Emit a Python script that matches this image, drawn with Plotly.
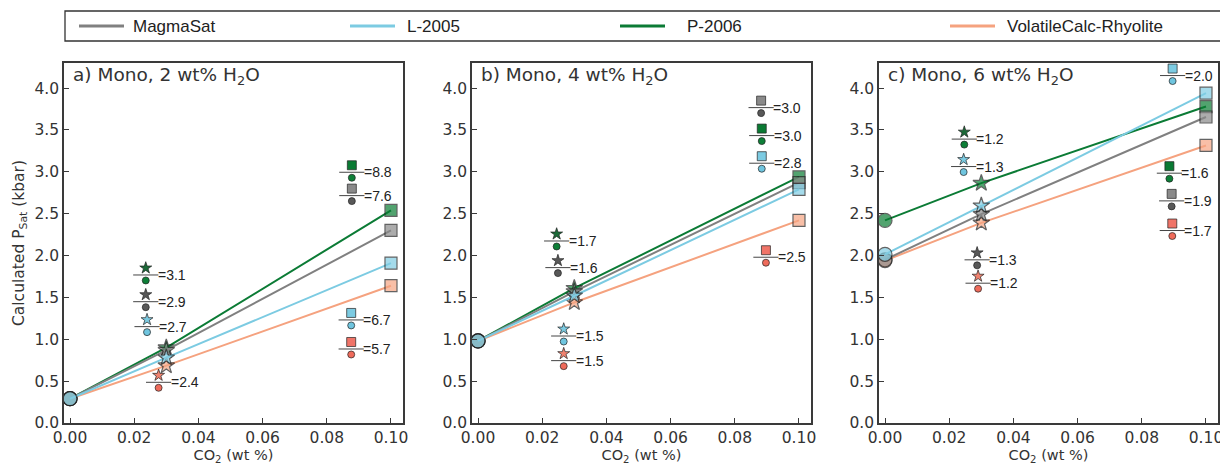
import plotly.graph_objects as go

# ---------------- data ----------------
co2 = [0.0, 0.03, 0.10]
models = ["MagmaSat", "L-2005", "P-2006", "VolatileCalc-Rhyolite"]

# Calculated Psat (kbar) per panel, per model, at CO2 = 0, 0.03, 0.10
psat_a = {"MagmaSat": [0.29, 0.87, 2.30], "L-2005": [0.29, 0.78, 1.91],
          "P-2006": [0.29, 0.90, 2.54], "VolatileCalc-Rhyolite": [0.29, 0.685, 1.64]}
psat_b = {"MagmaSat": [0.98, 1.57, 2.87], "L-2005": [0.98, 1.52, 2.79],
          "P-2006": [0.98, 1.61, 2.94], "VolatileCalc-Rhyolite": [0.98, 1.44, 2.42]}
psat_c = {"MagmaSat": [1.95, 2.495, 3.655], "L-2005": [2.015, 2.595, 3.94],
          "P-2006": [2.42, 2.865, 3.78], "VolatileCalc-Rhyolite": [1.94, 2.39, 3.315]}

# ratio labels (star / circle and square / circle)
ratio_star_models_a = ["P-2006", "MagmaSat", "L-2005", "VolatileCalc-Rhyolite"]
ratio_star_values_a = [3.1, 2.9, 2.7, 2.4]
ratio_sq_models_a = ["P-2006", "MagmaSat", "L-2005", "VolatileCalc-Rhyolite"]
ratio_sq_values_a = [8.8, 7.6, 6.7, 5.7]

ratio_star_models_b = ["P-2006", "MagmaSat", "L-2005", "VolatileCalc-Rhyolite"]
ratio_star_values_b = [1.7, 1.6, 1.5, 1.5]
ratio_sq_models_b = ["MagmaSat", "P-2006", "L-2005", "VolatileCalc-Rhyolite"]
ratio_sq_values_b = [3.0, 3.0, 2.8, 2.5]

ratio_star_models_c = ["P-2006", "L-2005", "MagmaSat", "VolatileCalc-Rhyolite"]
ratio_star_values_c = [1.2, 1.3, 1.3, 1.2]
ratio_sq_models_c = ["L-2005", "P-2006", "MagmaSat", "VolatileCalc-Rhyolite"]
ratio_sq_values_c = [2.0, 1.6, 1.9, 1.7]

panel_titles = ["a) Mono, 2 wt% H<sub>2</sub>O", "b) Mono, 4 wt% H<sub>2</sub>O",
                "c) Mono, 6 wt% H<sub>2</sub>O"]
x_ticks = [0.0, 0.02, 0.04, 0.06, 0.08, 0.10]
y_ticks = [0.0, 0.5, 1.0, 1.5, 2.0, 2.5, 3.0, 3.5, 4.0]

# ---------------- layout / style ----------------
W, H = 1228, 463
OFF = 8  # page body margin offset
def px_x(p):
    return (p - OFF) / W
def px_y(p):
    return 1 - (p - OFF) / H

line_col = {"MagmaSat": "#808080", "L-2005": "#7ccbe2", "P-2006": "#0b7b35",
            "VolatileCalc-Rhyolite": "#f5a27f"}
fill_col = {"MagmaSat": "#8a8a8a", "L-2005": "#80cde3", "P-2006": "#0a7d33",
            "VolatileCalc-Rhyolite": "#f6a583"}
top_star_col = {"MagmaSat": "#585858", "L-2005": "#7ccbe2", "P-2006": "#1b6a38",
                "VolatileCalc-Rhyolite": "#f0826f"}
top_sq_col = {"MagmaSat": "#8a8a8a", "L-2005": "#7ccbe2", "P-2006": "#0a7a33",
              "VolatileCalc-Rhyolite": "#f07468"}
circ_col = {"MagmaSat": "#585858", "L-2005": "#6fc5df", "P-2006": "#0d7f37",
            "VolatileCalc-Rhyolite": "#ef6b5b"}
draw_order = ["P-2006", "VolatileCalc-Rhyolite", "MagmaSat", "L-2005"]

# label placement (data coords of the fraction bar) per panel
star_pos = [
    [(0.0236, 1.768), (0.0236, 1.449), (0.0240, 1.151), (0.0276, 0.486)],
    [(0.0245, 2.174), (0.0249, 1.856), (0.0267, 1.039), (0.0267, 0.745)],
    [(0.0247, 3.391), (0.0245, 3.063), (0.0287, 1.949), (0.0290, 1.670)],
]
sq_pos = [
    [(0.0878, 2.995), (0.0878, 2.716), (0.0876, 1.231), (0.0876, 0.884)],
    [(0.0882, 3.767), (0.0884, 3.433), (0.0884, 3.103), (0.0897, 1.980)],
    [(0.0896, 4.150), (0.0886, 2.984), (0.0893, 2.653), (0.0895, 2.299)],
]

YPX = 83.7  # px per kbar
x_dom_px = [(64, 403), (472, 811), (879, 1218)]
y_dom = [px_y(423), px_y(63)]
x_range = [-0.00187, 0.10374]
y_range = [0, 4.30]

panels = [
    (psat_a, ratio_star_models_a, ratio_star_values_a, ratio_sq_models_a, ratio_sq_values_a),
    (psat_b, ratio_star_models_b, ratio_star_values_b, ratio_sq_models_b, ratio_sq_values_b),
    (psat_c, ratio_star_models_c, ratio_star_values_c, ratio_sq_models_c, ratio_sq_values_c),
]

fig = go.Figure()
annotations = []
AXC = "#3a3a3a"
TXT = "#333333"

for i, (psat, smods, svals, qmods, qvals) in enumerate(panels):
    xa = "x" if i == 0 else f"x{i+1}"
    ya = "y" if i == 0 else f"y{i+1}"
    for m in draw_order:
        fig.add_trace(go.Scatter(
            x=co2, y=psat[m], mode="lines+markers", name=m, showlegend=False,
            xaxis=xa, yaxis=ya, cliponaxis=False,
            line=dict(color=line_col[m], width=2),
            marker=dict(symbol=["circle", "star", "square"], size=[14, 12.5, 12],
                        color=fill_col[m], line=dict(color="#222222", width=1.2)),
        ))
    # ratio label glyphs
    for kind, mods, vals, pos in (("star", smods, svals, star_pos[i]),
                                  ("square", qmods, qvals, sq_pos[i])):
        xs = [p[0] for p in pos]
        ys = [p[1] for p in pos]
        tops = [y + 7.0 / YPX for y in ys]
        bots = [y - 5.5 / YPX for y in ys]
        tcols = [(top_star_col if kind == "star" else top_sq_col)[m] for m in mods]
        fig.add_trace(go.Scatter(
            x=xs, y=tops, mode="markers", showlegend=False, xaxis=xa, yaxis=ya,
            hoverinfo="skip",
            marker=dict(symbol=kind, size=9, color=tcols,
                        line=dict(color="#222222", width=0.7))))
        fig.add_trace(go.Scatter(
            x=xs, y=ys, mode="markers", showlegend=False, xaxis=xa, yaxis=ya,
            hoverinfo="skip",
            marker=dict(symbol="line-ew", size=18, color="#444444",
                        line=dict(color="#444444", width=1))))
        fig.add_trace(go.Scatter(
            x=xs, y=bots, mode="markers", showlegend=False, xaxis=xa, yaxis=ya,
            hoverinfo="skip",
            marker=dict(symbol="circle", size=7, color=[circ_col[m] for m in mods],
                        line=dict(color="#222222", width=0.7))))
        for x, y, v in zip(xs, ys, vals):
            annotations.append(dict(
                x=x, y=y, xref=xa, yref=ya, text=f"={v:.1f}", showarrow=False,
                xanchor="left", yanchor="middle", xshift=10,
                font=dict(family="Liberation Sans", size=14, color="#222222")))
    # panel title
    annotations.append(dict(
        x=px_x(x_dom_px[i][0] + 7), y=px_y(76), xref="paper", yref="paper",
        text=panel_titles[i], showarrow=False, xanchor="left", yanchor="middle",
        font=dict(family="DejaVu Sans", size=18.5, color=TXT)))

axis_common = dict(showline=True, linecolor=AXC, linewidth=1.5, mirror=True,
                   ticks="inside", ticklen=5, tickwidth=1.2, tickcolor=AXC,
                   showgrid=False, zeroline=False, automargin=False,
                   tickfont=dict(family="DejaVu Sans", size=15.5, color=TXT))

layout = dict(width=W, height=H, margin=dict(l=0, r=0, t=0, b=0, autoexpand=False),
              plot_bgcolor="white", paper_bgcolor="white", showlegend=False)
for i in range(3):
    sfx = "" if i == 0 else str(i + 1)
    layout["xaxis" + sfx] = dict(
        axis_common, domain=[px_x(x_dom_px[i][0]), px_x(x_dom_px[i][1])], range=x_range,
        anchor="y" + sfx, tickvals=x_ticks, ticktext=[f"{t:.2f}" for t in x_ticks],
        title=dict(text="CO<sub>2</sub> (wt %)", standoff=0,
                   font=dict(family="DejaVu Sans", size=14.5, color=TXT)))
    layout["yaxis" + sfx] = dict(
        axis_common, domain=y_dom, range=y_range, anchor="x" + sfx,
        tickvals=y_ticks, ticktext=[f"{t:.1f}" for t in y_ticks])
layout["yaxis"]["title"] = dict(text="Calculated P<sub>Sat</sub> (kbar)", standoff=6,
                                font=dict(family="DejaVu Sans", size=15.5, color=TXT))

# legend box drawn as a framed row
shapes = [dict(type="rect", xref="paper", yref="paper", x0=px_x(65), x1=px_x(1225),
               y0=px_y(41), y1=px_y(11), line=dict(color="#333333", width=1.3))]
leg_line_x = [79, 350, 620, 950]
leg_text_x = [131, 405, 685, 1005]
for m, lx, tx in zip(models, leg_line_x, leg_text_x):
    shapes.append(dict(type="line", xref="paper", yref="paper", x0=px_x(lx), x1=px_x(lx + 45),
                       y0=px_y(26), y1=px_y(26), line=dict(color=line_col[m], width=3)))
    annotations.append(dict(x=px_x(tx), y=px_y(26), xref="paper", yref="paper", text=m,
                            showarrow=False, xanchor="left", yanchor="middle",
                            font=dict(family="Liberation Sans", size=17, color="#222222")))

layout["shapes"] = shapes
layout["annotations"] = annotations
fig.update_layout(**layout)
fig.write_html("out.html")
